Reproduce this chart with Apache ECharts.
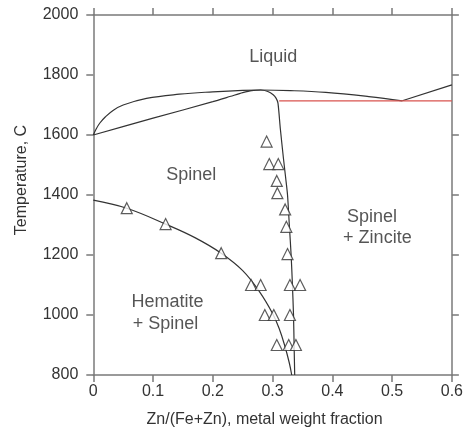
<!DOCTYPE html>
<html>
<head>
<meta charset="utf-8">
<script src="https://cdn.jsdelivr.net/npm/echarts@6/dist/echarts.min.js"></script>
<style>
  html, body { margin: 0; padding: 0; background: #fff; }
  #phase { width: 466px; height: 436px; }
</style>
</head>
<body>
<div id="phase"></div>
<script>
// Fe-Zn-O phase diagram in air
var xTicks = [0, 0.1, 0.2, 0.3, 0.4, 0.5, 0.6];
var tTicks = [800, 1000, 1200, 1400, 1600, 1800, 2000];

// liquidus, from pure Fe oxide to the eutectic
var liquidus = [
  [0, 1600], [0.005, 1621], [0.011, 1640], [0.02, 1660], [0.033, 1682],
  [0.05, 1700], [0.089, 1722], [0.144, 1736], [0.2, 1744], [0.25, 1749],
  [0.28, 1750], [0.33, 1748], [0.389, 1742], [0.461, 1728], [0.517, 1714]
];
// zincite liquidus above the eutectic
var liquidusZn = [[0.517, 1714], [0.6, 1767]];
// spinel solidus and its zinc-rich limit
var spinelSolidus = [
  [0, 1600], [0.1, 1656], [0.2, 1711], [0.23, 1729], [0.25, 1741],
  [0.265, 1748], [0.28, 1750], [0.292, 1745], [0.301, 1734], [0.306, 1722],
  [0.309, 1706], [0.313, 1620], [0.318, 1525], [0.322, 1455], [0.325, 1400],
  [0.328, 1300], [0.331, 1200], [0.333, 1110], [0.335, 1000], [0.336, 900],
  [0.337, 800]
];
// hematite + spinel boundary
var hematiteLimit = [
  [0, 1383], [0.056, 1356], [0.121, 1303], [0.17, 1258], [0.214, 1206],
  [0.25, 1148], [0.278, 1078], [0.3, 1005], [0.311, 955], [0.32, 900],
  [0.328, 840], [0.332, 800]
];
// eutectic isotherm
var eutectic = [[0.311, 1714], [0.6, 1714]];
// experimental points
var measured = [
  [0.056, 1356], [0.121, 1303], [0.214, 1206], [0.264, 1100], [0.28, 1100],
  [0.287, 1000], [0.302, 1000], [0.307, 900], [0.327, 900], [0.339, 900],
  [0.329, 1000], [0.329, 1100], [0.346, 1100], [0.325, 1203], [0.323, 1294],
  [0.321, 1352], [0.308, 1406], [0.307, 1447], [0.29, 1578], [0.2945, 1503],
  [0.3095, 1503]
];
// field labels
var fieldNames = ['Liquid', 'Spinel', 'Spinel', '+ Zincite', 'Hematite', '+ Spinel'];
var fieldAt = [[0.261, 1860], [0.122, 1467], [0.4245, 1328], [0.418, 1257], [0.064, 1044], [0.066, 970]];

var chart = echarts.init(document.getElementById('phase'));

var axisGray = '#7a7a7a';
var font = 'Liberation Sans';

function frameAxis(extra) {
  var a = {
    axisLine: { show: true, onZero: false, lineStyle: { color: axisGray, width: 1.5 } },
    axisTick: { show: true, inside: false, length: 7, lineStyle: { color: axisGray, width: 1.5 } },
    splitLine: { show: false },
    axisLabel: { show: false }
  };
  for (var k in extra) a[k] = extra[k];
  return a;
}

var fields = fieldNames.map(function (n, i) {
  return { name: n, value: fieldAt[i] };
});

function curve(data, color, smooth) {
  return {
    type: 'line', data: data, smooth: smooth, symbol: 'none',
    lineStyle: { color: color || '#333', width: 1.2 }, z: 3, animation: false
  };
}

var option = {
  animation: false,
  grid: { left: 93.3, right: 12.7, top: 15, bottom: 61 },
  xAxis: [
    frameAxis({
      type: 'value', min: 0, max: 0.6, interval: 0.1, position: 'bottom',
      axisLabel: {
        show: true, margin: 9, color: '#333', fontFamily: font, fontSize: 16,
        formatter: function (v) { return String(Math.round(v * 10) / 10); }
      },
      name: 'Zn/(Fe+Zn), metal weight fraction',
      nameLocation: 'middle', nameGap: 37,
      nameTextStyle: { color: '#333', fontFamily: font, fontSize: 16, padding: [0, 16, 0, 0] }
    }),
    frameAxis({ type: 'value', min: 0, max: 0.6, interval: 0.1, position: 'top' })
  ],
  yAxis: [
    frameAxis({
      type: 'value', min: 800, max: 2000, interval: 200, position: 'left',
      axisLabel: {
        show: true, margin: 15, color: '#333', fontFamily: font, fontSize: 16,
        formatter: function (v) { return String(v); }
      },
      name: 'Temperature, C',
      nameLocation: 'middle', nameGap: 64,
      nameTextStyle: { color: '#333', fontFamily: font, fontSize: 16, padding: [0, 0, 0, 30] }
    }),
    frameAxis({ type: 'value', min: 800, max: 2000, interval: 200, position: 'right' })
  ],
  series: [
    curve(liquidus, '#333', 0.4),
    curve(liquidusZn, '#333', false),
    curve(spinelSolidus, '#333', 0.25),
    curve(hematiteLimit, '#333', 0.4),
    curve(eutectic, '#d9534f', false),
    {
      type: 'scatter', data: measured, symbol: 'triangle', symbolSize: 11,
      itemStyle: { color: '#fff', borderColor: '#333', borderWidth: 1.2 }, z: 4
    },
    {
      type: 'scatter', data: fields, symbolSize: 0, silent: true,
      label: {
        show: true, position: 'inside', align: 'left', verticalAlign: 'middle',
        formatter: '{b}', color: '#2a2a2a', fontFamily: font, fontSize: 18
      }
    }
  ]
};

chart.setOption(option, true);
window.addEventListener('resize', function () { chart.resize(); });
</script>
</body>
</html>
